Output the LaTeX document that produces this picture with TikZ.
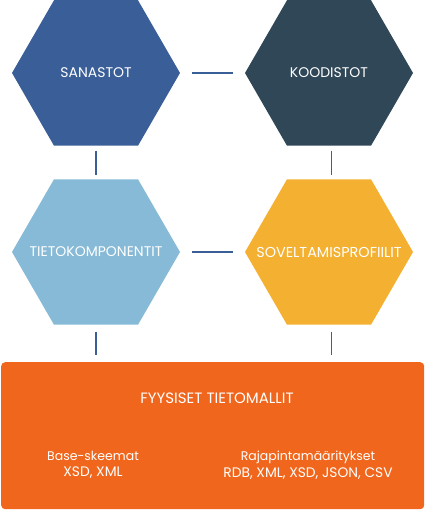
\documentclass[tikz,border=0pt]{standalone}
\usepackage{fontspec}
\setmainfont{Poppins}
\usetikzlibrary{shapes.geometric}
\definecolor{cSan}{HTML}{3A5E97}
\definecolor{cKoo}{HTML}{2F4757}
\definecolor{cTie}{HTML}{86BAD7}
\definecolor{cSov}{HTML}{F4B031}
\definecolor{cFyy}{HTML}{F1661D}
\definecolor{cLine}{HTML}{3A5E97}
\newcommand{\lowfont}{\fontsize{12.5}{16.5}\selectfont}
\newcommand{\capfont}{\fontsize{13.8}{16.5}\selectfont}
\tikzset{
  hexa/.style={regular polygon, regular polygon sides=6, minimum size=168pt,
    inner sep=0pt, outer sep=0pt},
  hexlbl/.style={label={[text=white, font=\fontsize{14}{16}\selectfont, inner sep=0pt]center:#1}},
  conn/.style={draw=cLine, line width=1.4pt},
  lbl/.style={text=white, align=center, inner sep=0pt, font=\fontsize{13}{16.5}\selectfont}
}
\begin{document}
\begin{tikzpicture}[x=1pt,y=-1pt]
\useasboundingbox (0,0) rectangle (425,510);
\node[hexa, fill=cSan, hexlbl=SANASTOT] (san) at (96,73) {};
\node[hexa, fill=cKoo, hexlbl=KOODISTOT] (koo) at (329,73) {};
\node[hexa, fill=cTie, hexlbl=TIETOKOMPONENTIT] (tie) at (96,252) {};
\node[hexa, fill=cSov, hexlbl={\fontsize{14.4}{16}\selectfont SOVELTAMISPROFIILIT}] (sov) at (329,252) {};
\node[fill=cFyy, rounded corners=4pt, minimum width=423pt, minimum height=147pt, inner sep=0pt, anchor=north west] (fyy) at (1,362) {};
\node[lbl, font=\fontsize{15}{16}\selectfont] (fyyt) at (217,398) {FYYSISET TIETOMALLIT};
\node[lbl] (base) at (93,465) {{\lowfont Base-skeemat}\\{\capfont XSD, XML}};
\node[lbl] (raja) at (308,465) {{\lowfont Rajapintamääritykset}\\{\capfont RDB, XML, XSD, JSON, CSV}};
\draw[conn, shorten <=12pt, shorten >=12pt] (san.east) -- (koo.west);
\draw[conn, shorten <=12pt, shorten >=12pt] (tie.east) -- (sov.west);
\draw[conn, shorten <=5pt, shorten >=4pt] (san.south) -- (tie.north);
\draw[conn, shorten <=5pt, shorten >=4pt] ([xshift=2.5pt]koo.south) -- ([xshift=2.5pt]sov.north);
\draw[conn, shorten <=7pt, shorten >=7pt] (tie.south) -- (tie.south |- fyy.north);
\draw[conn, shorten <=7pt, shorten >=7pt] ([xshift=2.5pt]sov.south) -- ([xshift=2.5pt]sov.south |- fyy.north);
\end{tikzpicture}
\end{document}
